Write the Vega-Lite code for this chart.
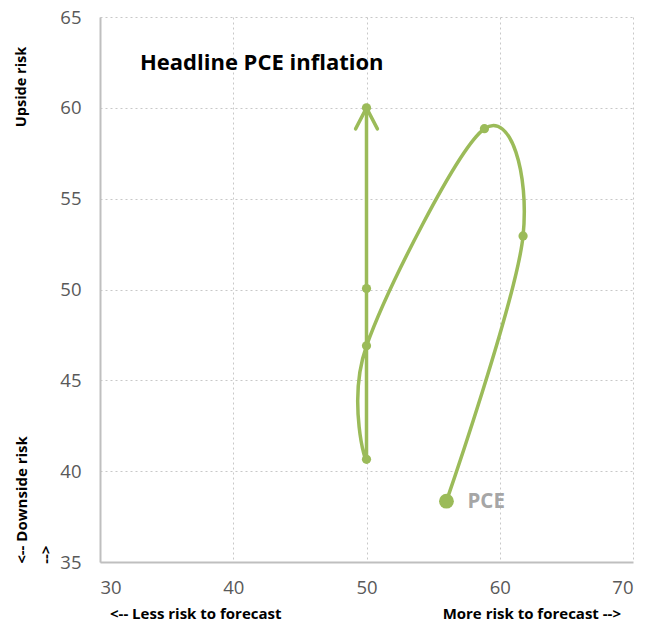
{
  "$schema": "https://vega.github.io/schema/vega-lite/v6.json",
  "width": 533,
  "height": 545,
  "autosize": {"type": "none"},
  "padding": {"left": 100, "top": 17, "right": 26, "bottom": 65},
  "background": "white",
  "config": {
    "view": {"stroke": null},
    "font": "Open Sans",
    "axis": {
      "grid": true,
      "gridColor": "#c8c8c8",
      "gridDash": [2, 3],
      "gridWidth": 1,
      "domainColor": "#bfbfbf",
      "domainWidth": 2,
      "ticks": false,
      "labelColor": "#595959",
      "labelFont": "Open Sans",
      "labelFontSize": 18.5,
      "title": null
    }
  },
  "datasets": {
    "path": [
      {"order": 1, "x": 56.0, "y": 38.35, "kind": "start", "series": "PCE"},
      {"order": 2, "x": 61.75, "y": 52.95, "kind": "mid", "series": "PCE"},
      {"order": 3, "x": 58.85, "y": 58.85, "kind": "mid", "series": "PCE"},
      {"order": 4, "x": 50.0, "y": 46.9, "kind": "mid", "series": "PCE"},
      {"order": 5, "x": 50.0, "y": 40.65, "kind": "mid", "series": "PCE"},
      {"order": 6, "x": 50.0, "y": 50.05, "kind": "mid", "series": "PCE"},
      {"order": 7, "x": 50.0, "y": 60.0, "kind": "end", "series": "PCE"}
    ]
  },
  "layer": [
    {
      "data": {"name": "path"},
      "mark": {"type": "line", "interpolate": "cardinal", "color": "#9bbb59", "strokeWidth": 3.5},
      "encoding": {
        "x": {"field": "x", "type": "quantitative", "scale": {"domain": [30, 70], "nice": false, "zero": false}, "axis": {"values": [30, 40, 50, 60, 70], "labelPadding": 16}},
        "y": {"field": "y", "type": "quantitative", "scale": {"domain": [35, 65], "nice": false, "zero": false}, "axis": {"values": [35, 40, 45, 50, 55, 60, 65], "labelPadding": 19}},
        "order": {"field": "order", "type": "quantitative"}
      }
    },
    {
      "data": {"name": "path"},
      "mark": {"type": "point", "filled": true, "color": "#9bbb59", "opacity": 1},
      "encoding": {
        "x": {"field": "x", "type": "quantitative"},
        "y": {"field": "y", "type": "quantitative"},
        "size": {"condition": {"test": "datum.kind === 'start'", "value": 220}, "value": 85}
      }
    },
    {
      "data": {"name": "path"},
      "transform": [{"filter": "datum.kind === 'end'"}],
      "mark": {"type": "point", "filled": false, "shape": "M-0.52,1 L0,0 L0.52,1", "size": 1764, "stroke": "#9bbb59", "strokeWidth": 3.5, "strokeCap": "round", "strokeJoin": "round", "opacity": 1},
      "encoding": {
        "x": {"field": "x", "type": "quantitative"},
        "y": {"field": "y", "type": "quantitative"}
      }
    },
    {
      "data": {"name": "path"},
      "transform": [{"filter": "datum.kind === 'start'"}],
      "mark": {"type": "text", "align": "left", "baseline": "middle", "dx": 21, "dy": 1, "fontSize": 20.5, "fontWeight": "bold", "color": "#a6a6a6"},
      "encoding": {
        "x": {"field": "x", "type": "quantitative"},
        "y": {"field": "y", "type": "quantitative"},
        "text": {"field": "series"}
      }
    },
    {
      "data": {"values": [{"label": "Headline PCE inflation", "x": 33.0, "y": 62.45}]},
      "mark": {"type": "text", "align": "left", "baseline": "middle", "fontSize": 22, "fontWeight": "bold", "color": "#000000"},
      "encoding": {
        "x": {"field": "x", "type": "quantitative"},
        "y": {"field": "y", "type": "quantitative"},
        "text": {"field": "label"}
      }
    },
    {
      "data": {"values": [{"label": "<-- Less risk to forecast", "x": 30.75, "y": 32.15}]},
      "mark": {"type": "text", "align": "left", "baseline": "middle", "fontSize": 15, "fontWeight": "bold", "color": "#000000"},
      "encoding": {
        "x": {"field": "x", "type": "quantitative"},
        "y": {"field": "y", "type": "quantitative"},
        "text": {"field": "label"}
      }
    },
    {
      "data": {"values": [{"label": "More risk to forecast -->", "x": 69.1, "y": 32.15}]},
      "mark": {"type": "text", "align": "right", "baseline": "middle", "fontSize": 15, "fontWeight": "bold", "color": "#000000"},
      "encoding": {
        "x": {"field": "x", "type": "quantitative"},
        "y": {"field": "y", "type": "quantitative"},
        "text": {"field": "label"}
      }
    },
    {
      "data": {"values": [{"label": "Upside risk", "x": 24.15, "y": 61.15}]},
      "mark": {"type": "text", "align": "center", "baseline": "middle", "angle": 270, "fontSize": 14.5, "fontWeight": "bold", "color": "#000000"},
      "encoding": {
        "x": {"field": "x", "type": "quantitative"},
        "y": {"field": "y", "type": "quantitative"},
        "text": {"field": "label"}
      }
    },
    {
      "data": {"values": [
        {"label": "<-- Downside risk", "x": 24.15, "y": 34.9},
        {"label": "-->", "x": 25.95, "y": 34.9}
      ]},
      "mark": {"type": "text", "align": "left", "baseline": "middle", "angle": 270, "fontSize": 15, "fontWeight": "bold", "color": "#000000"},
      "encoding": {
        "x": {"field": "x", "type": "quantitative"},
        "y": {"field": "y", "type": "quantitative"},
        "text": {"field": "label"}
      }
    }
  ]
}
